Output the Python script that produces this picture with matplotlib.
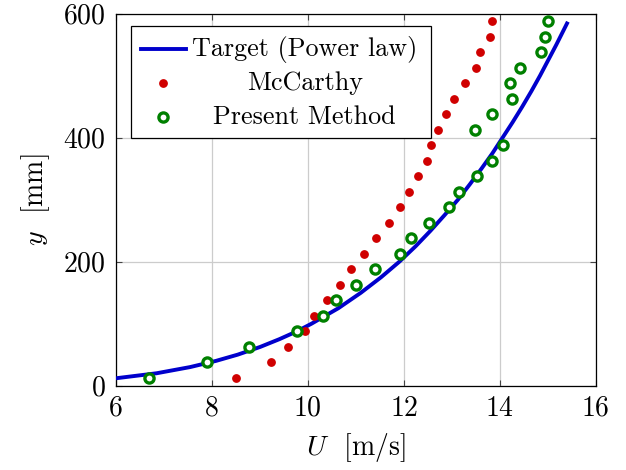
import numpy as np
import matplotlib
matplotlib.use("Agg")
import matplotlib.pyplot as plt
from matplotlib.patches import Rectangle

plt.rcParams['font.family'] = 'serif'
plt.rcParams['font.serif'] = ['cmr10']
plt.rcParams['mathtext.fontset'] = 'cm'
plt.rcParams['axes.formatter.use_mathtext'] = True

# heights of the measurement stations [mm]
y_pts = [12.5, 37.5, 62.5, 87.5, 112.5, 137.5, 162.5, 187.5, 212.5, 237.5,
         262.5, 287.5, 312.5, 337.5, 362.5, 387.5, 412.5, 437.5, 462.5, 487.5,
         512.5, 537.5, 562.5, 587.5]

u_mccarthy = [8.50, 9.23, 9.60, 9.95, 10.14, 10.40, 10.68, 10.90, 11.18, 11.43,
              11.69, 11.93, 12.12, 12.30, 12.49, 12.57, 12.71, 12.89, 13.05, 13.28,
              13.51, 13.58, 13.80, 13.84]

u_present = [6.69, 7.91, 8.78, 9.77, 10.32, 10.59, 11.01, 11.40, 11.92, 12.15,
             12.53, 12.95, 13.16, 13.52, 13.83, 14.06, 13.48, 13.85, 14.26, 14.21,
             14.43, 14.87, 14.95, 15.00]

# target profile
y_target = [10, 20, 30, 40, 50, 62.5, 75, 87.5, 100, 125, 150, 175, 200, 225, 250,
            275, 300, 325, 350, 375, 400, 425, 450, 475, 500, 525, 550, 587]
u_target = [5.80, 6.85, 7.55, 8.09, 8.54, 9.01, 9.41, 9.77, 10.08, 10.64, 11.11,
            11.53, 11.91, 12.25, 12.56, 12.85, 13.13, 13.38, 13.62, 13.85, 14.06,
            14.27, 14.47, 14.66, 14.84, 15.01, 15.18, 15.42]

blue = '#0000cc'
red = '#d00000'
green = '#008000'

fig = plt.figure(figsize=(6.26, 4.70), dpi=100)
ax = fig.add_axes([0.1848, 0.1794, 0.7668, 0.7915])

ax.plot(u_target, y_target, color=blue, lw=2.8, zorder=3, solid_capstyle='butt')
ax.plot(u_mccarthy, y_pts, ls='none', marker='o', ms=5.3, color=red, mec=red, zorder=4)
ax.plot(u_present, y_pts, ls='none', marker='o', ms=6.6, mfc='white', mec=green,
        mew=2.4, zorder=5)

ax.set_xlim(6, 16)
ax.set_ylim(0, 600)
ax.set_xticks([6, 8, 10, 12, 14, 16])
ax.set_yticks([0, 200, 400, 600])
ax.grid(True, color='#cccccc', lw=0.9)
ax.set_axisbelow(True)
ax.tick_params(direction='in', length=4.5, width=0.8, color='#444444',
               top=True, right=True, labelsize=20, pad=7)
for s in ax.spines.values():
    s.set_linewidth(0.9)

ax.set_xlabel('$U$  [m/s]', fontsize=20, labelpad=7)
ax.set_ylabel('$y$  [mm]', fontsize=20, labelpad=8)

# legend drawn pgfplots style, entries centred
ax.add_patch(Rectangle((0.03125, 0.6667), 0.6258, 0.301, transform=ax.transAxes,
                       facecolor='white', edgecolor='black', lw=0.9, zorder=10))
ax.plot([0.052, 0.1465], [0.904, 0.904], transform=ax.transAxes, color=blue,
        lw=2.8, zorder=11, clip_on=False)
ax.plot([0.0992], [0.8145], transform=ax.transAxes, ls='none', marker='o', ms=5.3,
        color=red, zorder=11, clip_on=False)
ax.plot([0.0992], [0.723], transform=ax.transAxes, ls='none', marker='o', ms=6.6,
        mfc='white', mec=green, mew=2.4, zorder=11, clip_on=False)
for yy, txt in [(0.904, 'Target (Power law)'), (0.8145, 'McCarthy'),
                (0.723, 'Present Method')]:
    ax.text(0.394, yy, txt, transform=ax.transAxes, ha='center', va='center',
            fontsize=18.8, zorder=12)

fig.savefig('out.png', dpi=100)
